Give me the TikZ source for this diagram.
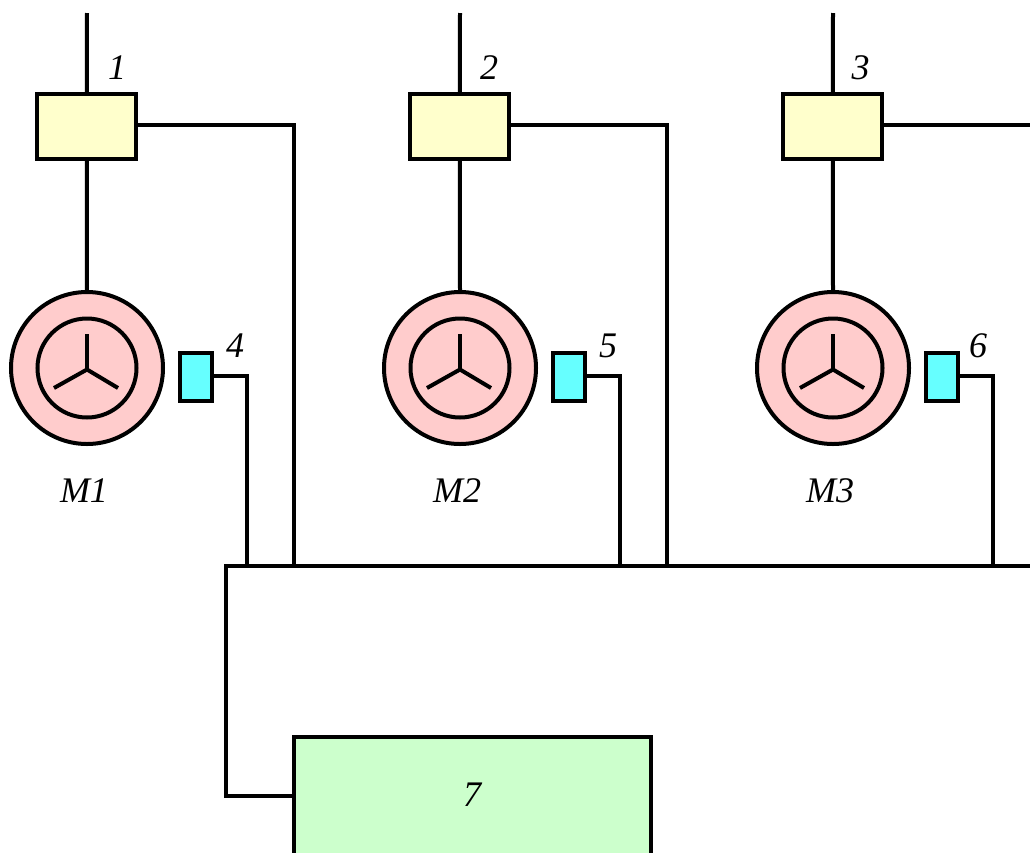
\documentclass[tikz,border=0pt]{standalone}
\usepackage{fontspec}
\setmainfont{Liberation Serif}
\definecolor{ctlfill}{HTML}{FFFFCC}
\definecolor{motorfill}{HTML}{FFCCCC}
\definecolor{sensorfill}{HTML}{66FFFF}
\definecolor{unitfill}{HTML}{CCFFCC}
\tikzset{
  wire/.style={line width=4pt,line join=miter},
  ctlbox/.style={draw,line width=4pt,fill=ctlfill,inner sep=0,outer sep=0,minimum width=99pt,minimum height=65pt},
  motor/.style={draw,line width=4pt,fill=motorfill,circle,inner sep=0,outer sep=0,minimum size=152pt},
  rotor/.style={draw,line width=4pt,circle,inner sep=0,outer sep=0,minimum size=99pt},
  sensor/.style={draw,line width=4pt,fill=sensorfill,inner sep=0,outer sep=0,minimum width=32pt,minimum height=48pt},
  unit/.style={draw,line width=4pt,fill=unitfill,inner sep=0,outer sep=0,minimum width=357pt,minimum height=132pt},
  lab/.style={inner sep=0,font=\fontsize{36}{36}\selectfont\itshape}
}
\begin{document}
\begin{tikzpicture}[x=1pt,y=-1pt]
\useasboundingbox (0,0) rectangle (1030,852);
\clip (0,0) rectangle (1030,852);
\fill[white] (0,0) rectangle (1030,852);
\coordinate (busL) at (226,566);
\coordinate (busR) at (1030,566);
\coordinate (edge3) at (1030,124.7);
\coordinate (tap7) at (295,796);
\foreach \i/\off/\n/\m in {1/0/4/M1,2/373/5/M2,3/746/6/M3}{
  \begin{scope}[xshift=\off pt]
    \coordinate (top\i) at (87,13);
    \coordinate (tap\i) at (136,124.7);
    \coordinate (stap\i) at (212,375.7);
    \coordinate (jp\i) at (294,566);
    \coordinate (js\i) at (247,566);
    \coordinate (hub\i) at (87,369.5);
    \coordinate (sa\i) at (87,334);
    \coordinate (sb\i) at (54,388);
    \coordinate (sc\i) at (118,388);
    \node[ctlbox] (c\i) at (86.75,126.5) {};
    \node[motor] (m\i) at (87,368) {};
    \node[rotor] (r\i) at (87,368) {};
    \node[sensor] (s\i) at (196.25,376.5) {};
    \node[lab] (lm\i) at (84,491) {\m};
    \draw[wire] (top\i) -- (c\i.north);
    \draw[wire] (c\i.south) -- (m\i.north);
    \draw[wire] (stap\i) -| (js\i);
    \draw[wire] (hub\i) -- (sa\i);
    \draw[wire] (hub\i) -- (sb\i);
    \draw[wire] (hub\i) -- (sc\i);
  \end{scope}
}
\draw[wire] (tap1) -| (jp1);
\draw[wire] (tap2) -| (jp2);
\draw[wire] (tap3) -- (edge3);
\node[lab] (l1) at (117,68) {1};
\node[lab] (l2) at (489,68) {2};
\node[lab] (l3) at (860.5,68) {3};
\node[lab] (l4) at (235,346) {4};
\node[lab] (l5) at (608,346) {5};
\node[lab] (l6) at (978,346) {6};
\node[unit] (u) at (472.5,803) {};
\node[lab] (l7) at (472,795) {7};
\draw[wire] (busR) -- (busL) |- (tap7);
\end{tikzpicture}
\end{document}
